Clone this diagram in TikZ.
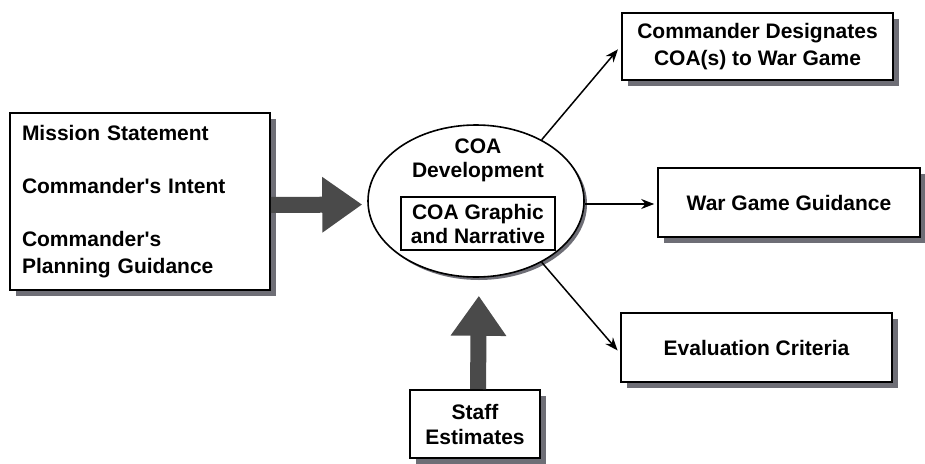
\documentclass[tikz,border=0pt]{standalone}
\usepackage{fontspec}
\setmainfont{Liberation Sans}
\usetikzlibrary{shapes.geometric,arrows.meta,shadows}
\definecolor{shadowgray}{HTML}{6E6E76}
\definecolor{fatgray}{HTML}{4A4A4A}
\begin{document}
\begin{tikzpicture}[x=1pt,y=-1pt,
  txt/.style={font=\fontsize{21}{27}\selectfont\bfseries},
  boxnode/.style={txt, draw, line width=1.6pt, fill=white, align=center, inner sep=0pt,
    drop shadow={shadow xshift=6pt, shadow yshift=-6pt, fill=shadowgray, opacity=1}},
  thin/.style={line width=1.5pt, -{Stealth[length=13pt,width=10pt]}},
  fat/.style={draw=fatgray, line width=16pt, -{Triangle[length=40pt,width=53pt]}}]
\useasboundingbox (0,0) rectangle (925,463);
% boxes
\node[boxnode, align=left, text width=236pt, minimum width=260pt, minimum height=177pt, inner xsep=12pt] (left) at (140,201.5)
  {Mission Statement\\[26pt] Commander\textquotesingle s Intent\\[26pt] Commander\textquotesingle s\\ Planning Guidance};
\node[boxnode, minimum width=271pt, minimum height=67pt] (top) at (757.5,46.5)
  {Commander Designates\\ COA(s) to War Game};
\node[boxnode, minimum width=262pt, minimum height=69pt] (mid) at (789,202.5) {War Game Guidance};
\node[boxnode, minimum width=271pt, minimum height=69pt] (bot) at (756.5,347.5) {Evaluation Criteria};
\node[boxnode, minimum width=130pt, minimum height=68pt, font=\fontsize{21}{25}\selectfont\bfseries] (staff) at (475,424)
  {Staff\\ Estimates};
% ellipse
\node[ellipse, draw, line width=1.6pt, fill=white, minimum width=216pt, minimum height=152pt, inner sep=0pt,
  drop shadow={shadow xshift=3pt, shadow yshift=-3pt, fill=shadowgray, opacity=1}] (ell) at (476,201) {};
\node[txt, align=center, font=\fontsize{21}{24}\selectfont\bfseries] (coa) at (478,160) {COA\\ Development};
\node[txt, draw, line width=1.2pt, align=center, minimum width=154pt, minimum height=53pt, inner sep=0pt,
  font=\fontsize{21}{24}\selectfont\bfseries] (inner) at (478,223.5) {COA Graphic\\ and Narrative};
% fat arrows
\draw[fat, shorten >=5pt] ([yshift=-3.5pt]left.east) -- ([yshift=-3.5pt]ell.west);
\draw[fat, shorten >=18pt] ([xshift=3pt]staff.north) -- ([xshift=3pt]ell.south);
% thin arrows
\draw[thin, shorten >=5pt] (ell.43) -- ([yshift=1pt]top.west);
\draw[thin, shorten >=3pt] ([yshift=-3pt]ell.east) -- ([yshift=-3pt]ell.east -| mid.west);
\draw[thin, shorten >=4pt] (ell.-43) -- ([yshift=-6pt]bot.west);
\end{tikzpicture}
\end{document}
